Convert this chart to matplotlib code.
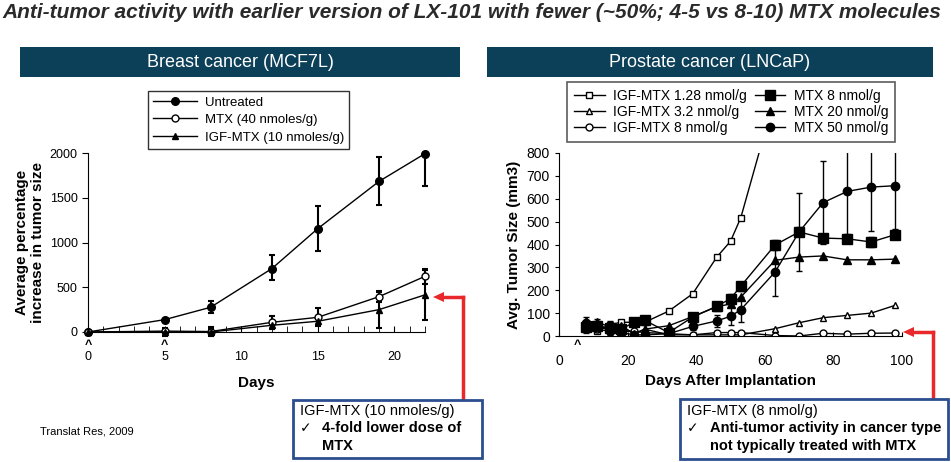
import matplotlib.pyplot as plt
import numpy as np
from matplotlib.patches import Rectangle

plt.rcParams['font.family'] = ['Liberation Sans', 'DejaVu Sans']

# ---- breast cancer (MCF7L) ----
days_b = [0, 5, 8, 12, 15, 19, 22]
untreated = [0, 138, 276, 708, 1155, 1683, 1993]
untreated_lo = [0, 0, 60, 125, 245, 260, 358]
untreated_hi = [0, 0, 70, 155, 255, 270, 0]
mtx40 = [0, 10, 5, 108, 164, 395, 622]
mtx40_err = [0, 0, 55, 70, 100, 55, 85]
igf10 = [0, 0, 0, 75, 120, 250, 415]
igf10_err = [0, 40, 30, 40, 40, 205, 280]

# ---- prostate cancer (LNCaP) ----
days_p = [8, 11, 15, 18, 22, 25, 32, 39, 46, 50, 53, 63, 70, 77, 84, 91, 98]
igf128_days = [8, 11, 15, 18, 22, 25, 32, 39, 46, 50, 53, 63]
igf128 = [50, 20, 50, 60, 60, 60, 109, 185, 345, 414, 517, 1050]
igf32 = [50, 30, 40, 40, 10, 30, 5, 5, 5, 5, 5, 32, 58, 80, 90, 100, 134]
igf8 = [40, 30, 20, 20, 20, 15, 10, 5, 15, 15, 15, 2, 0, 12, 8, 12, 13]
mtx8 = [40, 45, 35, 30, 60, 68, 15, 83, 130, 163, 218, 398, 455, 428, 425, 411, 443]
mtx20 = [65, 60, 40, 45, 10, 30, 45, 85, 128, 140, 170, 331, 345, 350, 333, 333, 336]
mtx50 = [55, 50, 20, 15, 5, 5, 10, 42, 66, 86, 115, 280, 455, 583, 632, 651, 657]
mtx50_err = [30, 25, 20, 20, 10, 10, 10, 15, 25, 40, 55, 107, 170, 180, 220, 190, 190]
mtx8_err = [25, 20, 30, 30, 15, 10, 10, 15, 15, 20, 20, 20, 20, 20, 20, 20, 20]

fig = plt.figure(figsize=(9.51, 4.62), dpi=100)

fig.text(0.003, 0.994, 'Anti-tumor activity with earlier version of LX-101 with fewer (~50%; 4-5 vs 8-10) MTX molecules',
         fontsize=15, fontweight='bold', fontstyle='italic', color='#2a2a2a', va='top', ha='left')

bar_col = '#0c3f58'
for x0, x1, label in [(20, 460, 'Breast cancer (MCF7L)'), (487, 933, 'Prostate cancer (LNCaP)')]:
    fig.patches.append(Rectangle((x0 / 951, 1 - 77 / 462), (x1 - x0) / 951, 30 / 462,
                                 transform=fig.transFigure, facecolor=bar_col, edgecolor='none'))
    fig.text((x0 + x1) / 2 / 951, 1 - 62.5 / 462, label, color='white', fontsize=13,
             ha='center', va='center')

# ---- left axes ----
ax1 = fig.add_axes([88 / 951, 1 - 332 / 462, 337 / 951, 179 / 462])
ax1.errorbar(days_b, untreated, yerr=[untreated_lo, untreated_hi], color='black', marker='o', ms=5.5,
             lw=1, elinewidth=1.5, capsize=2.5, capthick=1.5, label='Untreated', clip_on=False)
ax1.errorbar(days_b, mtx40, yerr=mtx40_err, color='black', marker='o', mfc='white', ms=5,
             lw=1, elinewidth=1.5, capsize=2.5, capthick=1.5, label='MTX (40 nmoles/g)', clip_on=False)
ax1.errorbar(days_b, igf10, yerr=igf10_err, color='black', marker='^', ms=5,
             lw=1, elinewidth=1.5, capsize=2.5, capthick=1.5, label='IGF-MTX (10 nmoles/g)', clip_on=False)
ax1.set_xlim(0, 22)
ax1.set_ylim(0, 2000)
ax1.set_yticks([0, 500, 1000, 1500, 2000])
ax1.set_xticks([0, 5, 10, 15, 20])
ax1.set_xticks(range(0, 23), minor=True)
ax1.spines['top'].set_visible(False)
ax1.spines['right'].set_visible(False)
ax1.tick_params(axis='x', which='both', direction='in', length=4, pad=14, labelsize=9)
ax1.tick_params(axis='y', direction='out', length=4, labelsize=9)
for x in [0, 5]:
    ax1.text(x, -0.075, '^', transform=ax1.get_xaxis_transform(), ha='center', va='center',
             fontsize=9, fontweight='bold')
ax1.set_xlabel('Days', fontsize=11, fontweight='bold', labelpad=9)
ax1.set_ylabel('Average percentage\nincrease in tumor size', fontsize=11, fontweight='bold', labelpad=3)
h, l = ax1.get_legend_handles_labels()
fig.legend([x[0] for x in h], l, loc='upper left', bbox_to_anchor=(148 / 951, 1 - 91 / 462), fontsize=9.5,
           frameon=True, fancybox=False, edgecolor='black', handlelength=3.3, borderpad=0.4,
           borderaxespad=0, labelspacing=0.4, handletextpad=0.6, numpoints=1).get_frame().set_linewidth(1)

# ---- right axes ----
ax2 = fig.add_axes([559 / 951, 1 - 336 / 462, 343 / 951, 183 / 462])
kw = dict(color='black', lw=1, elinewidth=1, capsize=2, capthick=1)
ax2.errorbar(igf128_days, igf128, marker='s', mfc='white', ms=5, label='IGF-MTX 1.28 nmol/g', **kw)
ax2.errorbar(days_p, igf32, marker='^', mfc='white', ms=5, label='IGF-MTX 3.2 nmol/g', **kw)
ax2.errorbar(days_p, igf8, yerr=6, marker='o', mfc='white', ms=5, label='IGF-MTX 8 nmol/g', **kw)
ax2.errorbar(days_p, mtx8, yerr=mtx8_err, marker='s', ms=7, label='MTX 8 nmol/g', **kw)
ax2.errorbar(days_p, mtx20, marker='^', ms=6, label='MTX 20 nmol/g', **kw)
ax2.errorbar(days_p, mtx50, yerr=mtx50_err, marker='o', ms=6, label='MTX 50 nmol/g', **kw)
ax2.set_xlim(0, 100)
ax2.set_ylim(0, 800)
ax2.set_yticks(range(0, 801, 100))
ax2.set_xticks(range(0, 101, 20))
ax2.spines['top'].set_visible(False)
ax2.spines['right'].set_visible(False)
ax2.tick_params(axis='x', direction='in', length=3, pad=13, labelsize=10)
ax2.tick_params(axis='y', direction='out', length=3, labelsize=10)
ax2.text(5.3, -0.05, '^', transform=ax2.get_xaxis_transform(), ha='center', va='center',
         fontsize=9, fontweight='bold')
ax2.set_xlabel('Days After Implantation', fontsize=11, fontweight='bold', labelpad=4)
ax2.set_ylabel('Avg. Tumor Size (mm3)', fontsize=11, fontweight='bold', labelpad=4)
h2, l2 = ax2.get_legend_handles_labels()
fig.legend([x[0] for x in h2], l2, loc='upper left', bbox_to_anchor=(567 / 951, 1 - 82 / 462),
           ncol=2, fontsize=10, frameon=True, fancybox=False, edgecolor='#333333', handlelength=2.2,
           borderpad=0.5, borderaxespad=0, labelspacing=0.15, handletextpad=0.6, columnspacing=0.6,
           numpoints=1).get_frame().set_linewidth(1.2)

# ---- callouts ----
red = '#e8282b'
box_col = '#2c4e8e'
fig.patches.append(Rectangle((293 / 951, 1 - 458 / 462), 189 / 951, 58 / 462, transform=fig.transFigure,
                             facecolor='white', edgecolor=box_col, lw=2, zorder=5))
fig.text(300 / 951, 1 - 411 / 462, 'IGF-MTX (10 nmoles/g)', fontsize=10.5, va='center', zorder=6)
fig.text(300 / 951, 1 - 428 / 462, '\u2713', fontsize=10, va='center', family=['DejaVu Sans'], zorder=6)
fig.text(322 / 951, 1 - 428 / 462, '4-fold lower dose of', fontsize=10.5, fontweight='bold', va='center', zorder=6)
fig.text(322 / 951, 1 - 446 / 462, 'MTX', fontsize=10.5, fontweight='bold', va='center', zorder=6)

fig.patches.append(Rectangle((680 / 951, 1 - 459 / 462), 268 / 951, 60 / 462, transform=fig.transFigure,
                             facecolor='white', edgecolor=box_col, lw=2, zorder=5))
fig.text(687 / 951, 1 - 411 / 462, 'IGF-MTX (8 nmol/g)', fontsize=10.5, va='center', zorder=6)
fig.text(687 / 951, 1 - 428 / 462, '\u2713', fontsize=10, va='center', family=['DejaVu Sans'], zorder=6)
fig.text(710 / 951, 1 - 428 / 462, 'Anti-tumor activity in cancer type', fontsize=10.5, fontweight='bold',
         va='center', zorder=6)
fig.text(710 / 951, 1 - 446 / 462, 'not typically treated with MTX', fontsize=10.5, fontweight='bold',
         va='center', zorder=6)

for xv, ytop, xhead in [(463, 297, 433), (933, 332, 903)]:
    fig.add_artist(plt.Line2D([xv / 951, xv / 951], [1 - 400 / 462, 1 - ytop / 462], color=red, lw=2.5,
                              transform=fig.transFigure))
    fig.add_artist(plt.Line2D([xv / 951, (xhead + 8) / 951], [1 - ytop / 462, 1 - ytop / 462], color=red, lw=2.5,
                              transform=fig.transFigure))
    fig.patches.append(plt.Polygon([[xhead / 951, 1 - ytop / 462], [(xhead + 11) / 951, 1 - (ytop - 5) / 462],
                                    [(xhead + 11) / 951, 1 - (ytop + 5) / 462]], closed=True,
                                   transform=fig.transFigure, facecolor=red, edgecolor='none'))

fig.text(40 / 951, 1 - 431 / 462, 'Translat Res, 2009', fontsize=8, va='center')

fig.savefig('out.png', dpi=100)
